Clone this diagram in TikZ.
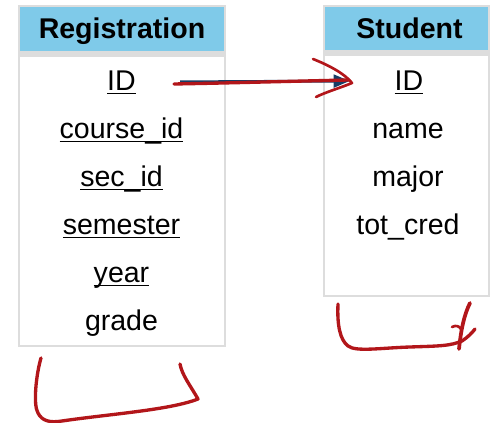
\documentclass[tikz,border=0pt]{standalone}
\usepackage{fontspec}
\setmainfont{Liberation Sans}
\usepackage{xcolor}
\usepackage{tikz}
\usetikzlibrary{arrows.meta}

\definecolor{headblue}{RGB}{127,202,233}
\definecolor{bandgray}{RGB}{221,221,221}
\definecolor{pkblue}{RGB}{22,62,102}
\definecolor{inkred}{RGB}{178,22,26}

\newcommand{\keyattr}[1]{\underline{\smash{#1}}}

\begin{document}
\begin{tikzpicture}[x=0.75pt,y=0.75pt,yscale=-1,xscale=1,
  attr/.style={anchor=base,inner sep=0.75pt,font=\fontsize{21.4}{25}\selectfont},
  head/.style={attr,font=\fontsize{21.4}{25}\selectfont\bfseries},
  ink/.style={draw=inkred,line width=2.5pt,line cap=round,line join=round}]
\useasboundingbox (0,0) rectangle (490,423);

%Shape: Rectangle [Registration]
\fill[headblue] (19,6) rectangle (225,51);
\fill[bandgray] (19,51) rectangle (225,57);
\draw[bandgray,line width=1.2] (19,6) rectangle (225,346);
%Shape: Rectangle [Student]
\fill[headblue] (324,6) rectangle (489,50);
\fill[bandgray] (324,50) rectangle (489,56);
\draw[bandgray,line width=1.2] (324,6) rectangle (489,296);

% Text Node
\node[head] (reghead) at (122,39) {Registration};
\node[attr] (rid) at (121.5,91) {\keyattr{ID}};
\node[attr] (rcourse) at (121.5,139) {\keyattr{course\_id}};
\node[attr] (rsec) at (121.5,187) {\keyattr{sec\_id}};
\node[attr] (rsem) at (121.5,235) {\keyattr{semester}};
\node[attr] (ryear) at (121.5,283) {\keyattr{year}};
\node[attr] (rgrade) at (121.5,331) {grade};
% Text Node
\node[head] (stuhead) at (409.5,39) {Student};
\node[attr] (sid) at (409,91) {\keyattr{ID}};
\node[attr] (sname) at (408,139) {name};
\node[attr] (smajor) at (408,187) {major};
\node[attr] (stotcred) at (408,235) {tot\_cred};

%Straight Lines [foreign key]
\coordinate (fkfrom) at ([xshift=44pt,yshift=-6.8pt]rid.base);
\coordinate (fkto) at ([xshift=-44.5pt,yshift=-7.5pt]sid.base);
\draw[pkblue,line width=2.2pt,-{Triangle[length=12pt,width=9.5pt]}] (fkfrom) -- (fkto);

%Curve Lines [pen strokes]
\draw[ink] (174,84) .. controls (230,83) and (300,81) .. (349,80);
\draw[ink,line width=2pt] (313,59) .. controls (328,65) and (344,73) .. (352,83) .. controls (340,88) and (326,92) .. (316,97);
%Curve Lines
\draw[ink] (41,358) .. controls (36,375) and (33,405) .. (38,413) .. controls (42,421) and (50,423) .. (62,421) .. controls (110,414) and (170,410) .. (198,399) .. controls (190,385) and (182,375) .. (180,364);
%Curve Lines
\draw[ink] (338,304) .. controls (337,325) and (340,340) .. (348,346) .. controls (356,352) and (380,348) .. (410,347) .. controls (440,346) and (450,346) .. (462,341) .. controls (468,337) and (472,333) .. (475,329);
\draw[ink,line width=2.8pt] (470,303) .. controls (464,315) and (461,330) .. (459,349);
\draw[ink,line width=2pt] (452,327) .. controls (456,325) and (459,326) .. (461,329);

\end{tikzpicture}
\end{document}
